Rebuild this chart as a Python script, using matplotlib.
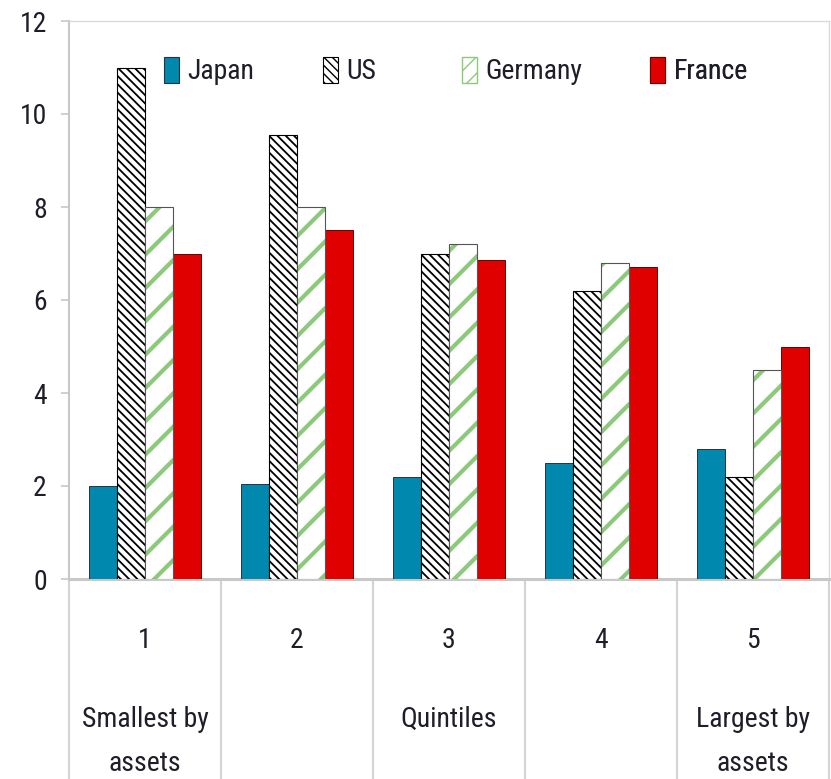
import matplotlib
matplotlib.use("Agg")
import matplotlib.pyplot as plt
import matplotlib.transforms as mtransforms
from matplotlib.patches import Patch
import numpy as np

plt.rcParams['font.family'] = ['Roboto Condensed', 'Liberation Sans Narrow', 'Lato', 'DejaVu Sans']

quintiles = ["1", "2", "3", "4", "5"]
quintile_notes = ["Smallest by\nassets", "", "Quintiles", "", "Largest by\nassets"]
countries = ["Japan", "US", "Germany", "France"]
japan = [2.0, 2.05, 2.2, 2.5, 2.8]
us = [11.0, 9.55, 7.0, 6.2, 2.2]
germany = [8.0, 8.0, 7.2, 6.8, 4.5]
france = [7.0, 7.5, 6.85, 6.7, 5.0]
y_ticks = [0, 2, 4, 6, 8, 10, 12]

TEXT = '#1e1e28'
GRID = '#c8c8c8'
JAPAN_C = '#0088ae'
FRANCE_C = '#e00000'
GERMANY_C = '#8cc97a'
FS = 20

fig = plt.figure(figsize=(8.31, 7.79), dpi=100)
ax = fig.add_axes([69 / 831, 1 - 579 / 779, 760 / 831, 558 / 779])

x = np.arange(len(quintiles))
w = 0.184
US_HATCH = '\\\\\\\\'
DE_HATCH = '/'


def set_hatch_lw(bars, lw):
    for b in bars:
        if hasattr(b, 'set_hatch_linewidth'):
            b.set_hatch_linewidth(lw)


ax.bar(x - 1.5 * w, japan, w, color=JAPAN_C, edgecolor='#24343c', linewidth=0.7, zorder=3)

with plt.rc_context({'hatch.linewidth': 1.3}):
    us_bars = ax.bar(x - 0.5 * w, us, w, color='white', edgecolor='black',
                     hatch=US_HATCH, linewidth=0.8, zorder=3)
set_hatch_lw(us_bars, 1.3)

with plt.rc_context({'hatch.linewidth': 3.0}):
    de_bars = ax.bar(x + 0.5 * w, germany, w, color='white', edgecolor=GERMANY_C,
                     hatch=DE_HATCH, linewidth=0, zorder=3)
set_hatch_lw(de_bars, 3.0)
ax.bar(x + 0.5 * w, germany, w, fill=False, edgecolor='#555555', linewidth=0.8, zorder=4)

ax.bar(x + 1.5 * w, france, w, color=FRANCE_C, edgecolor='#6a0000', linewidth=0.7, zorder=3)

ax.set_xlim(-0.5, len(quintiles) - 0.5)
ax.set_ylim(0, 12)
ax.set_yticks(y_ticks)
ax.set_yticklabels([str(t) for t in y_ticks], fontsize=FS, color=TEXT)
ax.tick_params(axis='y', direction='out', length=6, width=1.2, color=GRID, pad=10)
ax.set_xticks([])

for side in ['top', 'right']:
    ax.spines[side].set_color('#dadada')
    ax.spines[side].set_linewidth(1.0)
ax.spines['left'].set_color(GRID)
ax.spines['left'].set_linewidth(1.5)
ax.spines['bottom'].set_color(GRID)
ax.spines['bottom'].set_linewidth(2.2)

# category axis: separators and two-level labels
trans = mtransforms.blended_transform_factory(ax.transData, ax.transAxes)
for k in range(len(quintiles) + 1):
    ax.plot([k - 0.5, k - 0.5], [0, -0.40], transform=trans, color='#d4d4d4',
            linewidth=1.5, clip_on=False, zorder=1)
for i, (q, note) in enumerate(zip(quintiles, quintile_notes)):
    ax.text(i, -0.1237, q, transform=trans, ha='center', va='baseline',
            fontsize=FS, color=TEXT)
    if note:
        lines = note.split("\n")
        for j, line in enumerate(lines):
            ax.text(i, -0.2652 - j * 0.079, line, transform=trans, ha='center',
                    va='baseline', fontsize=FS, color=TEXT)

# legend entries laid out across the top of the plot
handles = [
    Patch(facecolor=JAPAN_C, edgecolor='#24343c', linewidth=0.8),
    Patch(facecolor='white', edgecolor='black', hatch=US_HATCH, linewidth=0.8),
    Patch(facecolor='white', edgecolor=GERMANY_C, hatch='//', linewidth=1.0),
    Patch(facecolor=FRANCE_C, edgecolor='#6a0000', linewidth=0.8),
]
legend_px = [164, 323, 462, 650]
for h, name, px in zip(handles, countries, legend_px):
    leg = ax.legend([h], [name], loc='center left',
                    bbox_to_anchor=((px - 69) / 760, (579 - 71) / 558),
                    frameon=False, fontsize=FS, handlelength=0.55, handleheight=1.1,
                    handletextpad=0.3, borderpad=0, borderaxespad=0)
    for t in leg.get_texts():
        t.set_color(TEXT)
    ax.add_artist(leg)

fig.savefig("out.png", dpi=100)
